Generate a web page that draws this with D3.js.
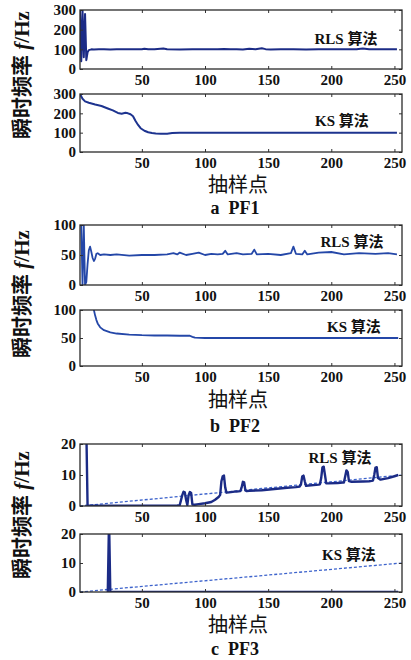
<!DOCTYPE html>
<html>
<head>
<meta charset="utf-8">
<script src="https://cdn.jsdelivr.net/npm/d3@7"></script>
<style>
  body { margin: 0; background: #fff; }
  svg { display: block; }
  text { font-family: "Liberation Serif", "Noto Sans CJK SC", serif; font-weight: bold; fill: #111; }
</style>
</head>
<body>
<svg id="chart" width="411" height="660"></svg>
<script>
// x axis: sample index
const sampleTicks = [50, 100, 150, 200, 250];
const pf1Ticks = [0, 100, 200, 300];
const pf2Ticks = [0, 50, 100];
const pf3Ticks = [0, 10, 20];

// PF1
const pf1RlsX = [1,2,3,4,5,6,7,8, 10,12,16,20,25,30,40,50, 52,55,60,67,70,80,90,100, 110,115,120,125,130,135,140,145, 148,152,160,170,180,190,200,210, 220,225,230,240,252];
const pf1RlsY = [300,40,300,60,280,45,85,96, 100,99,100,100,99,100,100,100, 103,100,100,104,100,99,100,100, 100,102,100,101,99,103,100,105, 101,99,100,100,99,100,100,101, 100,104,100,100,100];
const pf1KsX = [1,3,5,8,13,18,23,27, 31,34,37,39,41,43,45,47, 49,52,55,58,61,65,70,74, 80,252];
const pf1KsY = [300,275,262,255,246,238,225,215, 202,198,203,200,195,185,160,140, 123,110,102,98,96,95,95,98, 100,100];

// PF2
const pf2RlsX = [1,2,3,4,5,6,7,8,9,10, 11,12,13,14,15,17,20,25,30,40, 50,60,70,75,78,80,85,90,95,100, 105,110,114,116,118,125,130,137,139,141, 150,160,168,170,172,177,179,181,190,200, 210,222,235,245,252];
const pf2RlsY = [100,100,0,100,0,5,35,58,64,55, 45,40,44,52,53,50,51,50,51,49, 50,50,51,53,51,54,50,52,54,50, 52,51,52,57,51,53,51,52,59,51, 52,50,53,64,52,51,57,51,54,55, 51,53,52,53,51];
const pf2KsX = [10,11,12,13,14,15,17,20,25,30, 40,50,60,70,80,88,90,92,100,253];
const pf2KsY = [130,115,100,90,82,76,69,64,60,58, 56,55,54.5,54.5,54,54,52,50.5,50,50];

// PF3
const pf3RlsX = [6,7,8,30,60,78,80,82,83,84, 85,86,87,88,89,90,92,95,100,105, 108,111,112,113,114,115,116,117,119,125, 128,129,130,131,132,133,135,145,155,165, 172,175,176,177,178,179,180,182,188,190, 191,192,193,194,195,196,198,205,209,210, 211,212,213,214,216,225,230,232,233,234, 235,236,237,239,245,250,253];
const pf3RlsY = [25,0,0.1,0.1,0.1,0.2,0.3,3.5,4.6,4.4, 2,0.3,3.5,4.5,4.2,0.5,0.4,0.6,0.9,1.3, 2,3,3.6,8,9.6,9.8,6,4.3,4.4,4.7, 4.8,6,7.8,7.6,5,4.8,4.9,5.1,5.5,5.9, 6.1,6.3,7,9.5,9.8,8,6.5,6.6,6.8,6.9, 7,9,12.5,12.7,10,7.3,7.3,7.4,7.6,7.6, 9.5,11.5,11,8,7.8,7.9,8,8.1,8.2,10, 12.4,12.5,9,8.5,9,9.6,10];
const pf3KsX = [23,24,25,253];
const pf3KsY = [0,25,0,0];
const pf3TrueX = [1,256];
const pf3TrueY = [0,10];

const svg = d3.select('#chart');
const x = d3.scaleLinear().domain([1, 256]).range([80, 402]);

function zip(xs, ys) { return xs.map((v, i) => [v, ys[i]]); }

let clipCount = 0;
function drawPanel(p) {
    const y = d3.scaleLinear().domain([0, p.yMax]).range([p.bottom, p.top]);
    const id = 'clip' + (clipCount++);
    svg.append('clipPath').attr('id', id)
        .append('rect')
        .attr('x', x.range()[0]).attr('y', p.top)
        .attr('width', x.range()[1] - x.range()[0]).attr('height', p.bottom - p.top);

    const line = d3.line().x(d => x(d[0])).y(d => y(d[1]));
    const g = svg.append('g').attr('clip-path', `url(#${id})`);

    if (p.dashed) {
        g.append('path')
            .datum(p.dashed)
            .attr('d', line)
            .style('fill', 'none')
            .style('stroke', '#3d63cc')
            .style('stroke-width', 1.3)
            .style('stroke-dasharray', '3,2');
    }
    g.append('path')
        .datum(p.data)
        .attr('d', line)
        .style('fill', 'none')
        .style('stroke', p.color)
        .style('stroke-width', p.width)
        .style('stroke-linejoin', 'round');

    // axes, MATLAB-like inward ticks on four sides
    const bottom = svg.append('g').attr('transform', `translate(0,${p.bottom})`)
        .call(d3.axisBottom(x).tickValues(sampleTicks).tickSize(-3).tickPadding(5));
    svg.append('g').attr('transform', `translate(0,${p.top})`)
        .call(d3.axisTop(x).tickValues(sampleTicks).tickSize(-3).tickFormat(''));
    const left = svg.append('g').attr('transform', `translate(${x.range()[0]},0)`)
        .call(d3.axisLeft(y).tickValues(p.ticks).tickSize(-3).tickPadding(4));
    svg.append('g').attr('transform', `translate(${x.range()[1]},0)`)
        .call(d3.axisRight(y).tickValues(p.ticks).tickSize(-3).tickFormat(''));

    svg.selectAll('.domain').remove();
    svg.selectAll('.tick line').style('stroke', '#333');
    bottom.selectAll('text').style('font-size', '15px');
    left.selectAll('text').style('font-size', '15px');
    svg.selectAll('g text').attr('font-family', null).attr('fill', '#111');

    svg.append('rect')
        .attr('x', x.range()[0]).attr('y', p.top)
        .attr('width', x.range()[1] - x.range()[0]).attr('height', p.bottom - p.top)
        .style('fill', 'none').style('stroke', '#2a2a2a').style('stroke-width', 1.3);

    svg.append('text')
        .attr('x', p.tagX).attr('y', p.tagY)
        .attr('text-anchor', 'middle')
        .style('font-size', '15px')
        .text(p.tag);
}

const panels = [
    {top: 10, bottom: 69, yMax: 300, ticks: pf1Ticks, data: zip(pf1RlsX, pf1RlsY), color: '#1b2b86', width: 2, tag: 'RLS 算法', tagX: 346, tagY: 44},
    {top: 94, bottom: 152, yMax: 300, ticks: pf1Ticks, data: zip(pf1KsX, pf1KsY), color: '#1d338f', width: 2, tag: 'KS 算法', tagX: 342, tagY: 126},
    {top: 225, bottom: 285, yMax: 100, ticks: pf2Ticks, data: zip(pf2RlsX, pf2RlsY), color: '#2447a8', width: 1.8, tag: 'RLS 算法', tagX: 352, tagY: 247},
    {top: 310, bottom: 366, yMax: 100, ticks: pf2Ticks, data: zip(pf2KsX, pf2KsY), color: '#2447a8', width: 1.8, tag: 'KS 算法', tagX: 354, tagY: 332},
    {top: 444, bottom: 506, yMax: 20, ticks: pf3Ticks, data: zip(pf3RlsX, pf3RlsY), dashed: zip(pf3TrueX, pf3TrueY), color: '#1b2b86', width: 2.4, tag: 'RLS 算法', tagX: 340, tagY: 463},
    {top: 534, bottom: 592, yMax: 20, ticks: pf3Ticks, data: zip(pf3KsX, pf3KsY), dashed: zip(pf3TrueX, pf3TrueY), color: '#1b2b86', width: 2.4, tag: 'KS 算法', tagX: 349, tagY: 560}
];
panels.forEach(drawPanel);

// y labels, x labels and captions for each group
const groups = [
    {labelY: 75, xlabelY: 192, caption: 'a  PF1', captionY: 214},
    {labelY: 294, xlabelY: 407, caption: 'b  PF2', captionY: 432},
    {labelY: 515, xlabelY: 632, caption: 'c  PF3', captionY: 655}
];
groups.forEach(gr => {
    const t = svg.append('text')
        .attr('transform', `translate(29,${gr.labelY}) rotate(-90)`)
        .attr('text-anchor', 'middle')
        .style('font-size', '21px');
    t.append('tspan').text('瞬时频率 ');
    t.append('tspan').style('font-style', 'italic').text('f');
    t.append('tspan').text('/Hz');

    svg.append('text')
        .attr('x', 238).attr('y', gr.xlabelY)
        .attr('text-anchor', 'middle')
        .style('font-size', '20px')
        .style('font-weight', 'normal')
        .text('抽样点');

    svg.append('text')
        .attr('x', 235).attr('y', gr.captionY)
        .attr('text-anchor', 'middle')
        .style('font-size', '18px')
        .style('white-space', 'pre')
        .text(gr.caption);
});
</script>
</body>
</html>
